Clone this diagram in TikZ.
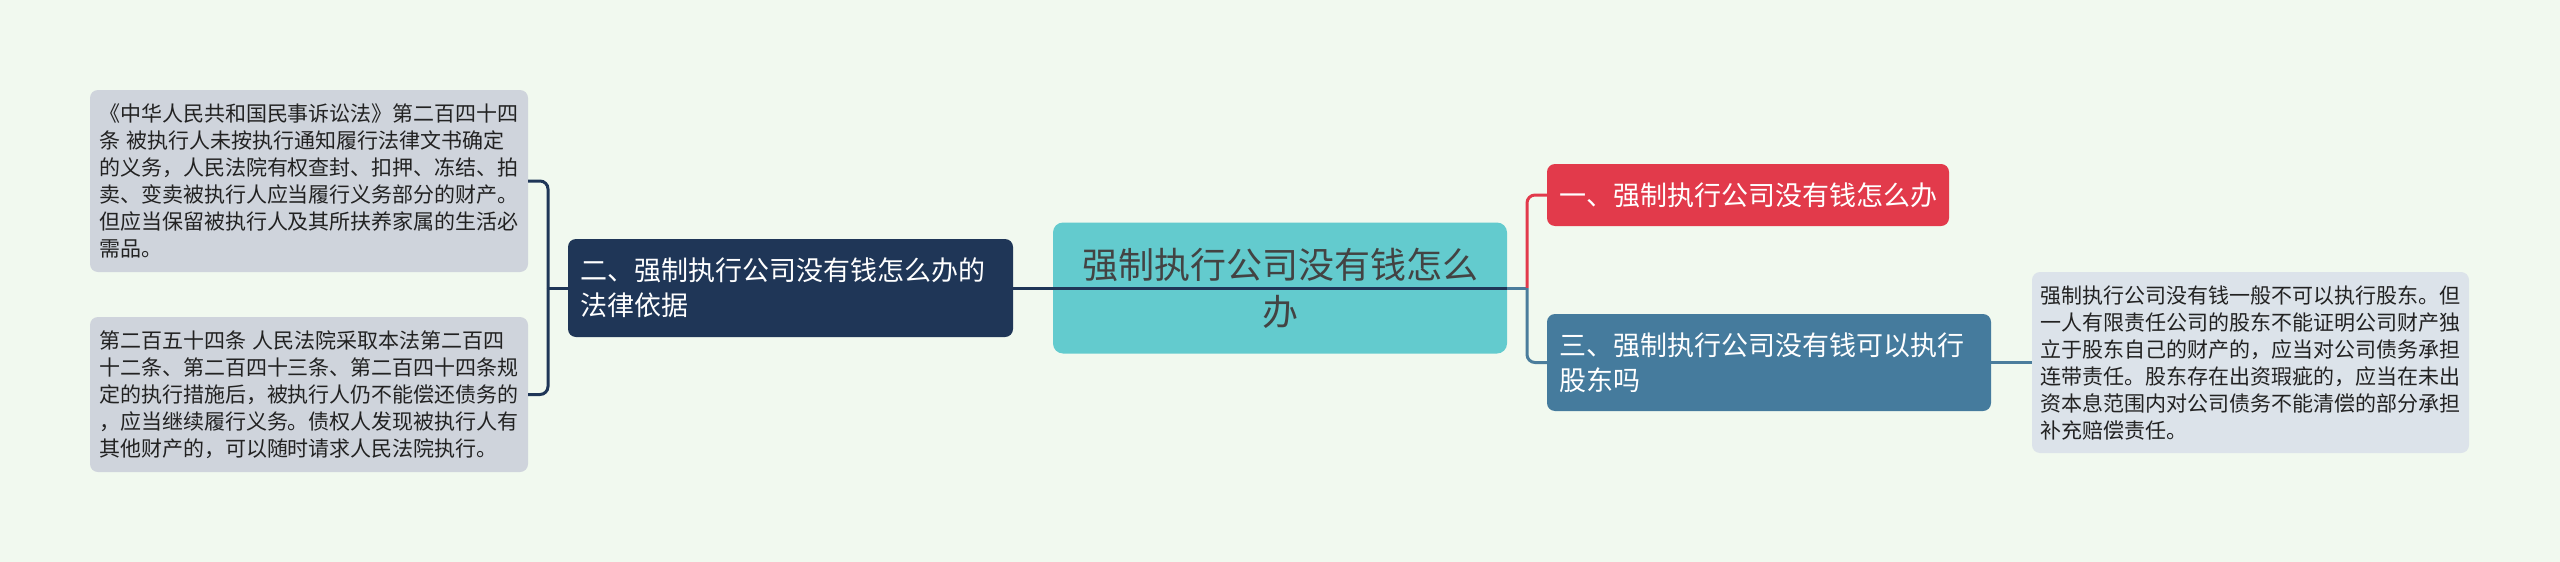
\documentclass[tikz,border=0pt]{standalone}
\usepackage{fontspec}
\setmainfont{Noto Sans CJK SC}
\definecolor{bgc}{HTML}{F1F9EF}
\definecolor{graybox}{HTML}{CFD4DC}
\definecolor{rgraybox}{HTML}{DCE3EA}
\definecolor{teal}{HTML}{63CBCE}
\definecolor{redc}{HTML}{E23A4B}
\definecolor{bluec}{HTML}{457B9D}
\definecolor{navy}{HTML}{1F3657}
\definecolor{blueline}{HTML}{4B7D9C}
\definecolor{txt}{HTML}{222222}
\begin{document}
\begin{tikzpicture}[x=1pt,y=-1pt,
  textbox/.style={fill=graybox, rounded corners=8pt, text=txt, align=left,
    font=\fontsize{21}{27}\selectfont, inner xsep=9pt, inner ysep=0pt, anchor=center},
  lvlbox/.style={rounded corners=8pt, text=white, align=left,
    font=\fontsize{27}{35}\selectfont, inner xsep=12pt, inner ysep=0pt, anchor=center},
  conn/.style={line width=3pt, rounded corners=8pt}
  ]
\fill[bgc] (0,0) rectangle (2560,562);
\useasboundingbox (0,0) rectangle (2560,562);

% left text boxes
\node[textbox, text width=420pt, minimum height=182pt] (A) at (309,181)
 {《中华人民共和国民事诉讼法》第二百四十四\\条 被执行人未按执行通知履行法律文书确定\\的义务，人民法院有权查封、扣押、冻结、拍\\卖、变卖被执行人应当履行义务部分的财产。\\但应当保留被执行人及其所扶养家属的生活必\\需品。};
\node[textbox, text width=420pt, minimum height=155pt] (B) at (309,394.5)
 {第二百五十四条 人民法院采取本法第二百四\\十二条、第二百四十三条、第二百四十四条规\\定的执行措施后，被执行人仍不能偿还债务的\\，应当继续履行义务。债权人发现被执行人有\\其他财产的，可以随时请求人民法院执行。};

% level-one nodes
\node[lvlbox, fill=navy, text width=421pt, minimum height=98pt] (n2) at (790.5,288)
 {二、强制执行公司没有钱怎么办的\\法律依据};
\node[fill=teal, rounded corners=10pt, text=txt!85, align=center,
  font=\fontsize{36}{47}\selectfont, text width=430pt, inner xsep=12pt, inner ysep=0pt,
  minimum height=131pt] (c) at (1280,288)
 {强制执行公司没有钱怎么\\办};
\node[lvlbox, fill=redc, text width=378pt, minimum height=62pt] (n1) at (1748,195)
 {一、强制执行公司没有钱怎么办};
\node[lvlbox, fill=bluec, text width=420pt, minimum height=97pt] (n3) at (1769,362.5)
 {三、强制执行公司没有钱可以执行\\股东吗};

% right text box
\node[textbox, fill=rgraybox, text width=420pt, inner xsep=8.5pt, minimum height=181pt] (R) at (2250.5,362.5)
 {强制执行公司没有钱一般不可以执行股东。但\\一人有限责任公司的股东不能证明公司财产独\\立于股东自己的财产的，应当对公司债务承担\\连带责任。股东存在出资瑕疵的，应当在未出\\资本息范围内对公司债务不能清偿的部分承担\\补充赔偿责任。};

% junctions
\coordinate (jl) at (548,288);
\coordinate (jr) at (1527,288);

% connectors left
\draw[conn, navy] (n2.east) -- (c.east);
\draw[conn, navy] (jl) -- (n2.west);
\draw[conn, navy] (jl) |- (A.east);
\draw[conn, navy] (jl) |- (B.east);

% connectors right
\draw[conn, blueline] (c.east) -- (jr);
\draw[conn, redc] (jr) |- (n1.west);
\draw[conn, blueline] (jr) |- (n3.west);
\draw[conn, blueline] (n3.east) -- (R.west);
\end{tikzpicture}
\end{document}
